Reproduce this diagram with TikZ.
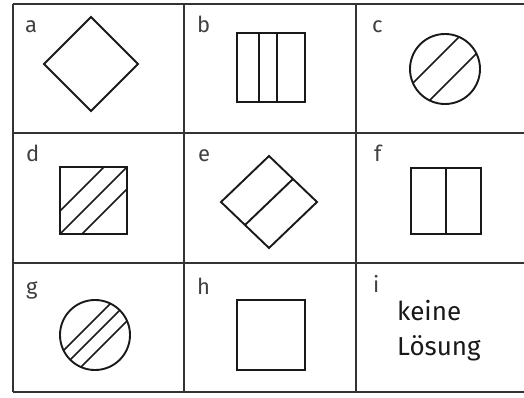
\documentclass[tikz,border=0pt]{standalone}
\usepackage{fontspec}
\setmainfont{Fira Sans}
\begin{document}
\begin{tikzpicture}[x=1pt,y=-1pt,
  gridline/.style={line width=1.6pt,draw=black!80},
  figline/.style={line width=1.9pt,draw=black!90,line join=miter},
  hatch/.style={line width=1.7pt,draw=black!90},
  lbl/.style={anchor=base west,inner sep=0pt,text=black!75,font=\fontsize{22}{26}\selectfont},
  txt/.style={anchor=base west,inner sep=0pt,text=black!90,font=\fontsize{26}{30}\selectfont}]
\useasboundingbox (0,0) rectangle (524,398);
% grid
\foreach \yy in {4,133,263,392} \draw[gridline] (13,\yy) -- (524,\yy);
\foreach \xx in {13,184,356} \draw[gridline] (\xx,4) -- (\xx,392);
% labels
\node[lbl] (la) at (25,33) {a};
\node[lbl] (lb) at (197,33) {b};
\node[lbl] (lc) at (372,33) {c};
\node[lbl] (ld) at (26,162) {d};
\node[lbl] (le) at (198,162) {e};
\node[lbl] (lf) at (374,162) {f};
\node[lbl] (lg) at (26,294) {g};
\node[lbl] (lh) at (197,294) {h};
\node[lbl] (li) at (373,292) {i};
\node[txt] (t1) at (397,320) {keine};
\node[txt] (t2) at (397,355) {Lösung};
% a: diamond
\draw[figline] (91,17) -- (138,64) -- (91,111) -- (44,64) -- cycle;
% b: rectangle with two lines
\draw[figline] (237,33) rectangle (305,102);
\draw[figline] (259,33) -- (259,102);
\draw[figline] (277,33) -- (277,102);
% c: circle with two chords
\begin{scope}
  \clip (445,69) circle (35);
  \foreach \k in {-18,16}
    \draw[hatch] ({445+\k/2-60},{69+\k/2+60}) -- ({445+\k/2+60},{69+\k/2-60});
\end{scope}
\draw[figline] (445,69) circle (35);
% d: square with three diagonals
\begin{scope}
  \clip (60,167) rectangle (127,234);
  \foreach \k in {-23,0,22}
    \draw[hatch] ({93.5+\k/2-60},{200.5+\k/2+60}) -- ({93.5+\k/2+60},{200.5+\k/2-60});
\end{scope}
\draw[figline] (60,167) rectangle (127,234);
% e: diamond with one line
\draw[figline] (269,156) -- (317,202) -- (269,248) -- (221,202) -- cycle;
\draw[figline] (293,179) -- (245,225);
% f: rectangle with middle line
\draw[figline] (411,168) rectangle (481,234);
\draw[figline] (446,168) -- (446,234);
% g: circle with three chords
\begin{scope}
  \clip (95,335) circle (35);
  \foreach \k in {-16,0,18}
    \draw[hatch] ({95+\k/2-60},{335+\k/2+60}) -- ({95+\k/2+60},{335+\k/2-60});
\end{scope}
\draw[figline] (95,335) circle (35);
% h: square
\draw[figline] (237,300) rectangle (305,370);
\draw[line width=2.8pt,draw=black!90] (237,370) -- (305,370);
\end{tikzpicture}
\end{document}
